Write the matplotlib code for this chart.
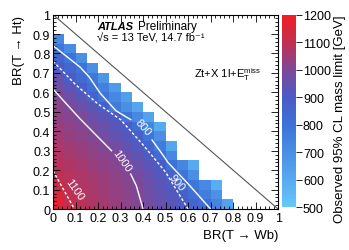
import numpy as np
import matplotlib
matplotlib.use("Agg")
import matplotlib.pyplot as plt
from matplotlib.colors import LinearSegmentedColormap, Normalize

plt.rcParams['font.family'] = ['Liberation Sans', 'DejaVu Sans']
plt.rcParams['mathtext.fontset'] = 'custom'
plt.rcParams['mathtext.rm'] = 'Liberation Sans'
plt.rcParams['mathtext.it'] = 'Liberation Sans:italic'
plt.rcParams['font.size'] = 9

# bin edges of the BR scan (steps of 0.05)
br_edges = np.linspace(0, 1, 21)

# observed mass limit [GeV], one list per BR(T->Ht) row (bottom first), starting at BR(T->Wb)=0
limit_rows = [
    [1160, 1105, 1086, 1070, 1054, 1038, 1022, 1006, 984, 958, 932, 906, 859, 805, 740, 630],
    [1140, 1095, 1080, 1064, 1048, 1032, 1017, 1001, 974, 947, 919, 882, 819, 760, 690],
    [1120, 1088, 1073, 1058, 1043, 1028, 1012, 995, 965, 936, 906, 843, 785, 720, 590],
    [1096, 1081, 1066, 1051, 1036, 1022, 1007, 983, 952, 921, 873, 790, 700],
    [1085, 1071, 1056, 1041, 1026, 1011, 991, 961, 930, 900, 800, 730, 600],
    [1075, 1060, 1045, 1030, 1017, 1003, 973, 941, 910, 830, 720],
    [1065, 1050, 1035, 1020, 1005, 979, 948, 918, 860, 770, 620],
    [1050, 1035, 1020, 1005, 980, 951, 923, 882, 790, 700],
    [1038, 1023, 1008, 986, 957, 929, 901, 817, 740, 600],
    [1026, 1011, 991, 961, 931, 903, 790, 720, 630],
    [1015, 999, 964, 930, 883, 770, 700, 620],
    [1003, 966, 925, 869, 790, 720, 640],
    [975, 935, 883, 819, 750, 660],
    [950, 894, 839, 780, 680],
    [905, 850, 795, 700],
    [860, 795, 700],
    [790, 710],
    [720],
]

# contour lines (x = BR(T->Wb), y = BR(T->Ht))
c800_a_x = [0.0, 0.06, 0.12, 0.16, 0.21, 0.28, 0.345]
c800_a_y = [0.84, 0.785, 0.73, 0.68, 0.595, 0.505, 0.46]
c800_b_x = [0.44, 0.49, 0.51, 0.60, 0.70]
c800_b_y = [0.355, 0.275, 0.24, 0.13, 0.0]
c900_x = [0.0, 0.1, 0.2, 0.3, 0.4, 0.5, 0.6]
c900_y = [0.76, 0.64, 0.54, 0.46, 0.33, 0.19, 0.0]
c1000_a_x = [0.0, 0.06, 0.12, 0.2, 0.26]
c1000_a_y = [0.617, 0.54, 0.464, 0.37, 0.30]
c1000_b_x = [0.345, 0.37, 0.4]
c1000_b_y = [0.18, 0.12, 0.0]
c1100_x = [0.0, 0.095]
c1100_y = [0.197, 0.0]

contour_labels = ["800", "900", "1000", "1100"]
label_x = [0.401, 0.55, 0.305, 0.093]
label_y = [0.425, 0.14, 0.248, 0.103]
label_rot = [-48, -50, -55, -55]

# colour scale
cmap_vals = [500, 600, 700, 800, 900, 1000, 1100, 1200]
cmap_cols = ['#64c8fa', '#56aaf0', '#4a8fe4', '#3d72d8', '#4a5cc6', '#7e4898', '#c22f50', '#f41c22']

z = np.full((20, 20), np.nan)
for j, row in enumerate(limit_rows):
    z[j, :len(row)] = row
z = np.ma.masked_invalid(z)

norm = Normalize(500, 1200)
cmap = LinearSegmentedColormap.from_list(
    'lim', [((v - 500) / 700, c) for v, c in zip(cmap_vals, cmap_cols)])

fig = plt.figure(figsize=(3.49, 2.51), dpi=100)
ax = fig.add_axes([0.152, 0.163, 0.645, 0.775])
cax = fig.add_axes([0.807, 0.170, 0.041, 0.768])

mesh = ax.pcolormesh(br_edges, br_edges, z, cmap=cmap, norm=norm, edgecolors='face', linewidth=0)

ax.plot([0, 1], [1, 0], color='#555555', lw=0.8)

lc = dict(color='white', lw=1.0)
ax.plot(c800_a_x, c800_a_y, **lc)
ax.plot(c800_b_x, c800_b_y, **lc)
ax.plot(c900_x, c900_y, ls=(0, (2, 1.5)), **lc)
ax.plot(c1000_a_x, c1000_a_y, **lc)
ax.plot(c1000_b_x, c1000_b_y, **lc)
ax.plot(c1100_x, c1100_y, ls=(0, (2, 1.5)), **lc)
for t, x, y, r in zip(contour_labels, label_x, label_y, label_rot):
    ax.text(x, y, t, color='white', fontsize=8, rotation=r, ha='center', va='center',
            rotation_mode='anchor')

ax.set_xlim(0, 1)
ax.set_ylim(0, 1)
ticks = np.linspace(0, 1, 11)
ticklabels = ['0', '0.1', '0.2', '0.3', '0.4', '0.5', '0.6', '0.7', '0.8', '0.9', '1']
ax.set_xticks(ticks)
ax.set_xticklabels(ticklabels)
ax.set_yticks(ticks)
ax.set_yticklabels(ticklabels)
ax.set_xticks(np.linspace(0, 1, 51), minor=True)
ax.set_yticks(np.linspace(0, 1, 51), minor=True)
ax.tick_params(which='both', direction='in', top=True, right=True, width=0.6, pad=2)
ax.tick_params(which='major', length=5)
ax.tick_params(which='minor', length=2.5)

ax.set_xlabel('BR(T → Wb)', fontsize=9.5, loc='right', labelpad=4)
ax.set_ylabel('BR(T → Ht)', fontsize=9.5, loc='top', labelpad=6)

ax.text(0.196, 0.926, 'ATLAS', transform=ax.transAxes, fontsize=8,
        fontweight='bold', fontstyle='italic', va='baseline')
ax.text(0.378, 0.926, 'Preliminary', transform=ax.transAxes, fontsize=8.5, va='baseline')
ax.text(0.196, 0.868, '√s = 13 TeV, 14.7 fb⁻¹', transform=ax.transAxes,
        fontsize=8, va='baseline')
ax.text(0.627, 0.679, r'Zt+X 1l+E$_\mathrm{T}^\mathrm{miss}$', transform=ax.transAxes,
        fontsize=8, va='baseline')

cb = fig.colorbar(mesh, cax=cax)
cb.set_ticks([500, 600, 700, 800, 900, 1000, 1100, 1200])
cb.ax.tick_params(direction='out', length=4, width=0.6, labelsize=9, pad=1)
cb.outline.set_visible(False)
cb.set_label('Observed 95% CL mass limit [GeV]', fontsize=9.5, loc='top', labelpad=2)

fig.savefig('out.png', dpi=100)
